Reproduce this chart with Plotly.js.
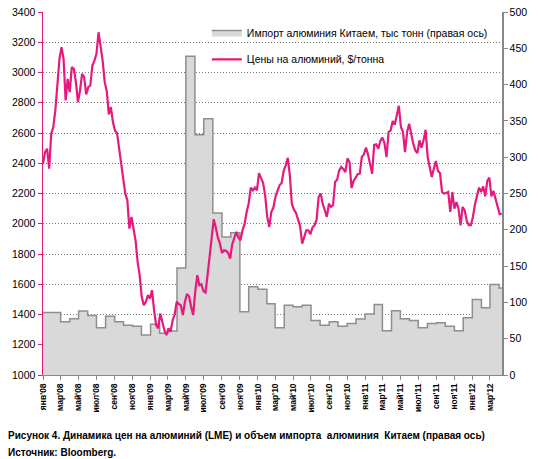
<!DOCTYPE html>
<html><head><meta charset="utf-8">
<script src="https://cdn.plot.ly/plotly-3.0.1.min.js"></script>
<style>html,body{margin:0;padding:0;background:#fff}#chart{width:538px;height:459px}</style>
</head><body><div id="chart"></div>
<script>
// Monthly China aluminium imports, thousand tonnes (right axis), Jan 2008 .. Apr 2012
const importValues = [
  86, 86, 73.5, 77.5, 88, 82, 65, 81, 73.5, 68.5, 67, 55,
  70, 57.5, 60.5, 147.5, 439, 331, 353, 223, 190, 196, 87, 121.5,
  118, 98, 65, 96, 94, 96, 75, 68.5, 73.5, 67, 71, 77,
  84, 97, 61, 88.5, 77.5, 75, 65, 71, 72, 67, 61, 79,
  104, 92.5, 124.5, 120
];
// Weekly LME aluminium price, $/t (left axis), weeks starting 2008-01-01
const priceStart = '2008-01-01';
const priceWeekly = [
  2397,2474,2496,2364,2595,2639,2749,2903,3090,3167,3090,2815,2958,2870,3035,3024,
  2936,2804,2881,2991,2969,2855,2903,2914,3046,3079,3123,3266,3167,3079,2936,2877,
  2723,2771,2672,2617,2599,2496,2419,2287,2199,2155,1968,2045,1957,1891,1748,1660,
  1517,1462,1484,1528,1506,1561,1429,1330,1308,1407,1352,1297,1264,1308,1286,1360,
  1400,1484,1469,1462,1396,1484,1535,1521,1451,1396,1550,1660,1594,1600,1555,1545,
  1660,1785,1917,2030,1975,1910,1870,1807,1825,1821,1807,1770,1865,1909,1946,1909,
  1891,1957,1997,2078,2133,2239,2221,2239,2221,2335,2305,2269,2188,2045,1979,2078,
  2107,2177,2217,2254,2269,2349,2386,2436,2320,2129,2093,2071,2027,1983,1869,1917,
  1957,1957,1931,1975,1990,2027,2177,2200,2130,2090,2045,2133,2111,2122,2276,2291,
  2353,2375,2362,2342,2432,2408,2236,2283,2309,2327,2331,2441,2459,2503,2459,2397,
  2331,2522,2525,2496,2547,2569,2533,2441,2606,2617,2679,2654,2727,2780,2639,2606,
  2474,2606,2661,2588,2529,2485,2467,2551,2503,2551,2621,2441,2364,2309,2364,2415,
  2349,2335,2210,2199,2203,2210,2078,2210,2100,2144,2100,1990,2111,2089,2019,1990,
  1990,2045,2129,2195,2239,2210,2247,2181,2283,2305,2181,2217,2155,2115,2063,2067
];
const tickLabels = ["янв'08","мар'08","май'08","июл'08","сен'08","ноя'08",
  "янв'09","мар'09","май'09","июл'09","сен'09","ноя'09",
  "янв'10","мар'10","май'10","июл'10","сен'10","ноя'10",
  "янв'11","мар'11","май'11","июл'11","сен'11","ноя'11",
  "янв'12","мар'12"];
const importName = 'Импорт алюминия Китаем, тыс тонн (правая ось)';
const priceName = 'Цены на алюминий, $/тонна';
const captionLine1 = 'Рисунок 4. Динамика цен на алюминий (LME) и объем импорта  алюминия  Китаем (правая ось)';
const captionLine2 = 'Источник: Bloomberg.';

function pad(n){return (n<10?'0':'')+n;}
// month calendar for imports
const importMonths = [];
for (let i = 0; i <= importValues.length; i++) {
  const y = 2008 + Math.floor(i/12), m = i%12 + 1;
  importMonths.push(y + '-' + pad(m) + '-01');
}
const stepX = importMonths.slice();
const stepY = importValues.concat([importValues[importValues.length-1]]);
const tickVals = importMonths.filter((d,i)=> i%2===0).slice(0, tickLabels.length);

// weekly calendar for prices
const priceDates = [];
const t0 = Date.parse(priceStart + 'T00:00:00Z');
for (let k = 0; k < priceWeekly.length; k++) {
  const d = new Date(t0 + k*7*86400000);
  priceDates.push(d.getUTCFullYear()+'-'+pad(d.getUTCMonth()+1)+'-'+pad(d.getUTCDate()));
}

const FONT = 'Liberation Sans, Arial, sans-serif';
const PINK = '#e6197e';

const traces = [
  {
    type: 'scatter', mode: 'lines', name: importName,
    x: stepX, y: stepY, xaxis: 'x', yaxis: 'y',
    line: {shape: 'hv', color: '#8e8e8e', width: 1.5},
    fill: 'tozeroy', fillcolor: '#d9d9d9',
    legend: 'legend', hoverinfo: 'skip'
  },
  {
    type: 'scatter', mode: 'lines', name: priceName,
    x: priceDates, y: priceWeekly, xaxis: 'x', yaxis: 'y2',
    line: {color: PINK, width: 2.2},
    legend: 'legend2', hoverinfo: 'skip'
  }
];

const layout = {
  width: 538, height: 459,
  margin: {l: 43, r: 36, t: 12, b: 84},
  paper_bgcolor: '#ffffff', plot_bgcolor: '#ffffff',
  font: {family: FONT, size: 10.5, color: '#000'},
  showlegend: true,
  xaxis: {
    type: 'date', range: ['2008-01-01', '2012-04-11'],
    tickmode: 'array', tickvals: tickVals, ticktext: tickLabels,
    tickangle: -90, ticks: 'outside', ticklen: 4, tickcolor: '#888',
    showline: true, linecolor: '#888', linewidth: 1,
    showgrid: false, zeroline: false,
    tickfont: {family: FONT, size: 8.5, color: '#000', weight: 'bold'}
  },
  yaxis: {
    side: 'right', range: [0, 500], dtick: 50, tick0: 0,
    ticks: 'outside', ticklen: 4, tickcolor: '#888',
    showline: true, linecolor: '#888', linewidth: 1.5,
    showgrid: false, zeroline: false,
    tickfont: {family: FONT, size: 10.5, color: '#000'}
  },
  yaxis2: {
    overlaying: 'y', side: 'left', range: [1000, 3400], dtick: 200, tick0: 1000,
    ticks: 'outside', ticklen: 4, tickcolor: PINK,
    showline: true, linecolor: PINK, linewidth: 1.5,
    showgrid: true, gridcolor: '#7a7a7a', gridwidth: 1, griddash: '1px,2px',
    zeroline: false,
    tickfont: {family: FONT, size: 10.5, color: '#000'}
  },
  legend: {
    x: 0.357, y: 0.9435, xanchor: 'left', yanchor: 'middle',
    bgcolor: 'rgba(0,0,0,0)', borderwidth: 0,
    font: {family: FONT, size: 10.5, color: '#000'}
  },
  legend2: {
    x: 0.357, y: 0.8697, xanchor: 'left', yanchor: 'middle',
    bgcolor: 'rgba(0,0,0,0)', borderwidth: 0,
    font: {family: FONT, size: 10.5, color: '#000'}
  },
  annotations: [
    {xref: 'paper', yref: 'paper', x: -0.0806, y: -0.168, xanchor: 'left', yanchor: 'middle',
     showarrow: false, text: '<b>' + captionLine1.replace(/  /g, ' \u00a0') + '</b>',
     font: {family: FONT, size: 10, color: '#000'}},
    {xref: 'paper', yref: 'paper', x: -0.0806, y: -0.213, xanchor: 'left', yanchor: 'middle',
     showarrow: false, text: '<b>' + captionLine2 + '</b>',
     font: {family: FONT, size: 10, color: '#000'}}
  ]
};

Plotly.newPlot('chart', traces, layout, {staticPlot: true, displayModeBar: false});
</script>
</body></html>
